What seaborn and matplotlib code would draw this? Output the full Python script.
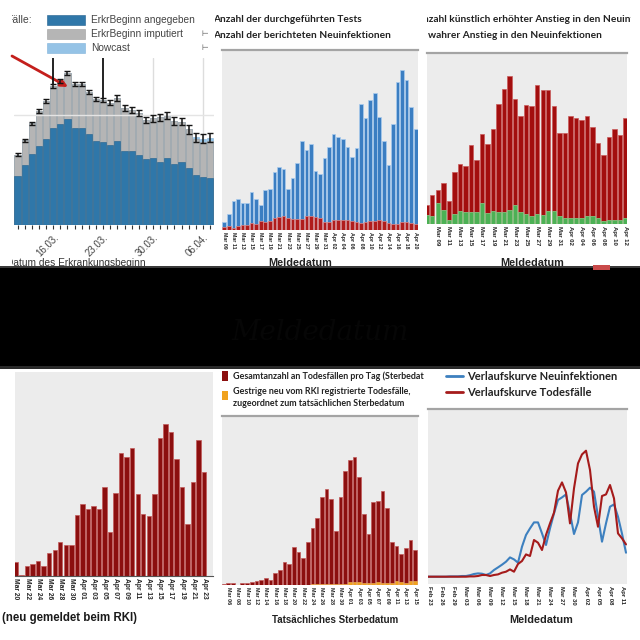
import numpy as np
import pandas as pd
import matplotlib
matplotlib.use("Agg")
import matplotlib.pyplot as plt
import seaborn as sns
from matplotlib.transforms import Bbox, TransformedBbox
from matplotlib.patches import Rectangle
from matplotlib.lines import Line2D

sns.set_style("white")
plt.rcParams['font.family'] = ['Liberation Sans', 'DejaVu Sans']

# ---------------- data ----------------
# Panel 1: Fälle nach Erkrankungsbeginn (11.03. - 07.04.)
p1_dates = pd.date_range('2020-03-11', '2020-04-07').strftime('%d.%m.').tolist()
p1_angegeben = [1780, 2170, 2580, 2880, 3120, 3520, 3680, 3870, 3520, 3530, 3310, 3070, 3030, 2900,
                3050, 2700, 2700, 2560, 2390, 2440, 2290, 2440, 2220, 2290, 2060, 1820, 1740, 1710]
p1_imputiert = [770, 920, 1120, 1270, 1390, 1540, 1570, 1650, 1610, 1600, 1540, 1510, 1520, 1550,
                1560, 1550, 1490, 1510, 1430, 1440, 1630, 1540, 1570, 1470, 1430, 1300, 1290, 1360]
p1_nowcast = [0] * 25 + [80, 110, 110]
p1_err = [55, 55, 60, 60, 75, 85, 75, 75, 75, 75, 75, 75, 75, 85, 110, 110, 110, 110, 110, 120,
          120, 135, 135, 135, 165, 165, 165, 165]
p1_ticklabels = ['16.03.', '23.03.', '30.03.', '06.04.']

# Panel 2: Tests vs. Neuinfektionen (Mar 09 - Apr 20)
p2_dates = pd.date_range('2020-03-09', '2020-04-20').strftime('%b %d').tolist()
p2_tests = [8.3, 15.7, 29.3, 30.7, 27.3, 27.3, 37.7, 31, 25.3, 40.3,
            41, 57.7, 63.3, 60.7, 40.7, 51.7, 66.7, 88.7, 80, 85.7,
            59, 56, 71.7, 83.3, 96.3, 93.3, 91, 82.7, 73, 81.7,
            125.7, 112.3, 129.7, 137.3, 113.3, 88.7, 64.7, 106.3, 148, 159.7,
            150.3, 122.7, 100.7]
p2_cases = [3.3, 4.3, 1.7, 4.3, 5.3, 5.3, 6.7, 6.3, 8.7, 7.7,
            9.3, 11.7, 13.3, 14.3, 12.3, 10.7, 11.3, 11.3, 13.7, 13.7,
            13.3, 11.7, 8.3, 8.3, 10.3, 10, 10, 10, 9.3, 7.7,
            6.7, 8.3, 9.3, 9, 10, 9, 6.7, 6.3, 6, 8,
            7.7, 7.3, 6.3]

# Panel 3: künstlich erhöhter vs. wahrer Anstieg (Mar 07 - Apr 12)
p3_dates = pd.date_range('2020-03-07', '2020-04-12').strftime('%b %d').tolist()
p3_kuenstlich = [18.7, 28.7, 33.7, 40.7, 22.7, 52.3, 60.3, 57.7, 79, 64.3,
                 90.3, 80, 95, 120.3, 135, 148.3, 125.3, 108.3, 118.7, 117.7,
                 138.7, 134.3, 134.3, 117.7, 91, 91, 107.7, 105.7, 103.7, 108.3,
                 97, 81, 68.7, 86.7, 94.7, 89, 106.3]
p3_wahr = [8.7, 8.3, 21, 14.3, 4.3, 10, 12.7, 11.7, 11.7, 11.7,
           21, 11, 12.7, 12, 12.3, 14.3, 18.7, 11.7, 10.3, 7.7,
           10, 9.3, 13.3, 12.7, 7.7, 6, 6, 6, 6.3, 7.7,
           7.7, 5.7, 3.3, 4.3, 4.3, 3.7, 5.7]

# Panel 4: Todesfälle neu gemeldet beim RKI (Mar 20 - Apr 23)
p4_dates = pd.date_range('2020-03-20', '2020-04-23').strftime('%b %d').tolist()
p4_tote = [13.7, 0.7, 10, 12, 14.7, 10.3, 23, 26, 34.3, 30.7,
           31.3, 61.3, 71.7, 67, 69.7, 67.3, 89, 44, 83.3, 123,
           119, 128.3, 82.3, 62, 60.3, 82, 137.7, 152, 144.3, 117,
           88.7, 52.3, 93.7, 136, 103.7]

# Panel 5: Todesfälle nach Sterbedatum (Mar 05 - Apr 15)
p5_dates = pd.date_range('2020-03-05', '2020-04-15').strftime('%b %d').tolist()
p5_gesamt = [1, 1.7, 1.7, 0, 2, 1.7, 2.7, 4.3, 5.3, 7.3,
             4.7, 12, 15, 22.7, 20.7, 37.7, 33.3, 27, 42.7, 57.3,
             67, 88, 96, 86, 54, 87.7, 114.3, 124.7, 128, 107.7,
             71, 51, 83, 84, 93.7, 76.7, 43.3, 39, 31.3, 37,
             45, 34.7]
p5_gestern = [0] * 19 + [0.7, 0.7, 0.7, 0.7, 0.7, 0.7, 1, 1.3, 3, 2.7, 2.7, 2.3, 2, 2.3,
                         2.7, 2, 2.3, 2.3, 4.3, 2.7, 2.3, 3.7, 4.3]

# Panel 6: Verlaufskurven (Feb 22 - Apr 12)
p6_dates = pd.date_range('2020-02-22', '2020-04-12').strftime('%b %d').tolist()
p6_neuinf = [0, 0, 0, 0, 0, 0, 0.3, 0.3, 0.3, 0.7,
             0.7, 1.5, 2.7, 3.3, 3, 1.7, 3.3, 6.7, 9.3, 12, 15, 19.3, 17.3, 14, 30, 41.7, 48.3,
             54.3, 54.3, 43.3, 31.7, 48.3, 63.3, 76.7, 79.3, 82.3, 63.3, 42.7, 54.3,
             81.7, 85, 89, 85, 60, 35, 53.3, 70, 72.3, 60, 43, 24]
p6_tote = [0, 0, 0, 0, 0, 0, 0, 0, 0, 0, 0, 0.3, 0.3,
           0.7, 1.7, 1.7, 0.7, 1.7, 2.3, 4, 5, 7.3, 5, 12.7, 15.7, 22.3, 20.7, 36.7, 34, 26.7,
           41.7, 53.3, 64, 86, 94.3, 84.3, 53.3, 88.3, 113.3,
           122.3, 126, 106.7, 70, 50, 80.7, 82.3, 91.7, 78.3, 43.3, 38.3, 32.3]

# ---------------- figure helpers ----------------
W = H = 640
fig = plt.figure(figsize=(6.4, 6.4), dpi=100)
fig.patch.set_facecolor('white')
GRAY_BG = '#ececec'
TITLE_FONT = ['Lato', 'DejaVu Sans']


def pax(l, t, r, b):
    return fig.add_axes([l / W, 1 - b / H, (r - l) / W, (b - t) / H])


def ftext(x, y, s, clip=None, **kw):
    kw.setdefault('va', 'center')
    t = fig.text(x / W, 1 - y / H, s, **kw)
    if clip is not None:
        x0, y0, x1, y1 = clip
        t.set_clip_box(TransformedBbox(Bbox.from_extents(x0 / W, 1 - y1 / H, x1 / W, 1 - y0 / H),
                                       fig.transFigure))
        t.set_clip_on(True)
    return t


def frect(x0, y0, x1, y1, **kw):
    r = Rectangle((x0 / W, 1 - y1 / H), (x1 - x0) / W, (y1 - y0) / H,
                  transform=fig.transFigure, **kw)
    fig.add_artist(r)
    return r


def fline(x0, y0, x1, y1, **kw):
    ln = Line2D([x0 / W, x1 / W], [1 - y0 / H, 1 - y1 / H], transform=fig.transFigure, **kw)
    fig.add_artist(ln)
    return ln


def style_panel(ax, top_line=True):
    ax.set_facecolor(GRAY_BG)
    for s in ['left', 'right', 'bottom']:
        ax.spines[s].set_visible(False)
    if top_line:
        ax.spines['top'].set_color('#a4a4a4')
        ax.spines['top'].set_linewidth(1.6)
    else:
        ax.spines['top'].set_visible(False)
    ax.set_yticks([])
    ax.set_xlabel('')
    ax.set_ylabel('')


def rot_ticks(ax, pos, labels, size):
    ax.set_xticks(pos)
    ax.set_xticklabels(labels, rotation=-90, fontsize=size, fontweight='bold', color='#222222',
                       va='top', ha='center')
    ax.tick_params(axis='x', length=0, pad=1.5)


# ---------------- Panel 1 ----------------
df1 = pd.DataFrame({'datum': p1_dates, 'ang': p1_angegeben, 'imp': p1_imputiert, 'now': p1_nowcast})
df1['total'] = df1['ang'] + df1['imp']
df1['total_now'] = df1['total'] + df1['now']
ax1 = pax(14, 58, 214, 225)
ax1.set_facecolor('white')
n1 = len(df1)
for xv in [19, 26]:
    ax1.axvline(xv, color='#dddddd', lw=1, zorder=0.5)
sns.barplot(data=df1, x='datum', y='total_now', color='#95c3e6', saturation=1, width=0.86,
            edgecolor='#7fb2da', linewidth=0.4, ax=ax1, zorder=2)
sns.barplot(data=df1, x='datum', y='total', color='#b5b5b5', saturation=1, width=0.86,
            edgecolor='#9d9d9d', linewidth=0.4, ax=ax1, zorder=2.1)
sns.barplot(data=df1, x='datum', y='ang', color='#2f77a9', saturation=1, width=0.86,
            edgecolor='#20608e', linewidth=0.4, ax=ax1, zorder=2.2)
ax1.axhline(4000, color='#e4e4e4', lw=1, zorder=2.5)
ax1.errorbar(np.arange(n1), df1['total_now'], yerr=p1_err, fmt='none', ecolor='#151515',
             elinewidth=1.1, capsize=2, capthick=1, zorder=4)
y1max = 6080
ax1.vlines([5, 12], [df1['total_now'][5] + p1_err[5], df1['total_now'][12] + p1_err[12]], y1max,
           color='#111111', lw=1.3, zorder=4)
ax1.set_xlim(-0.5, 27.55)
ax1.set_ylim(0, y1max)
for s in ax1.spines.values():
    s.set_visible(False)
ax1.set_yticks([])
ax1.set_xticks(np.arange(n1), minor=True)
ax1.set_xticks([5, 12, 19, 26])
ax1.set_xticklabels(p1_ticklabels, rotation=45, ha='right', rotation_mode='anchor',
                    fontsize=7, color='#444444')
ax1.tick_params(axis='x', which='both', length=3, width=0.8, color='#333333', pad=2, bottom=True)
ax1.set_xlabel('')
ax1.set_ylabel('')

# legend of panel 1
clip1 = (12, 0, 214, 268)
ftext(6, 20, 'Fälle:', clip=clip1, fontsize=7.5, color='#444444')
frect(47, 15, 85, 25, facecolor='#2f77a9', edgecolor='#20608e', lw=0.4)
frect(47, 29, 85, 39, facecolor='#b5b5b5', edgecolor='#9d9d9d', lw=0.4)
frect(47, 43, 85, 53, facecolor='#95c3e6', edgecolor='#7fb2da', lw=0.4)
ftext(91, 20, 'ErkrBeginn angegeben', fontsize=7.3, color='#444444')
ftext(91, 34, 'ErkrBeginn imputiert', fontsize=7.3, color='#444444')
ftext(91, 48, 'Nowcast', fontsize=7.3, color='#444444')
ftext(201, 34, '⊢', fontsize=5.5, color='#333333', family='DejaVu Sans')
ftext(201, 48, '⊢', fontsize=5.5, color='#333333', family='DejaVu Sans')
ftext(5.5, 263, 'Datum des Erkrankungsbeginn', clip=clip1, fontsize=7.3, color='#333333')
ax1.annotate('', xy=(68 / W, 1 - 87 / H), xycoords='figure fraction',
             xytext=(12 / W, 1 - 56 / H), textcoords='figure fraction',
             arrowprops=dict(arrowstyle='-|>', color='#c41f1c', lw=2, mutation_scale=10,
                             shrinkA=0, shrinkB=0))

# ---------------- Panel 2 ----------------
ax2 = pax(222, 50, 418, 230)
sns.barplot(x=p2_dates, y=p2_tests, color='#3b7ec2', saturation=1, width=0.8,
            edgecolor='#a9cbee', linewidth=0.5, ax=ax2)
sns.barplot(x=p2_dates, y=p2_cases, color='#b01c1c', saturation=1, width=0.8,
            edgecolor='#e08a8a', linewidth=0.5, ax=ax2)
ax2.set_xlim(-0.5, 42.5)
ax2.set_ylim(0, 180)
style_panel(ax2)
rot_ticks(ax2, list(range(0, len(p2_dates), 2)), p2_dates[::2], 3.8)
clip2 = (215, 0, 425, 268)
ftext(213.5, 19.5, 'Anzahl der durchgeführten Tests', clip=clip2, fontsize=7.3, fontweight='bold',
      family=TITLE_FONT, color='#222222')
ftext(213.5, 35, 'Anzahl der berichteten Neuinfektionen', clip=clip2, fontsize=7.3, fontweight='bold',
      family=TITLE_FONT, color='#222222')
ftext(300, 263, 'Meldedatum', ha='center', fontsize=7.8, fontweight='bold', color='#222222')

# ---------------- Panel 3 ----------------
ax3 = pax(427, 53, 627, 224)
sns.barplot(x=p3_dates, y=p3_kuenstlich, color='#a30e0e', saturation=1, width=0.8,
            edgecolor='#c95a5a', linewidth=0.5, ax=ax3)
sns.barplot(x=p3_dates, y=p3_wahr, color='#4cb155', saturation=1, width=0.8,
            edgecolor='#86d48d', linewidth=0.5, ax=ax3)
ax3.set_xlim(0.05, 36.25)
ax3.set_ylim(0, 171)
style_panel(ax3)
rot_ticks(ax3, list(range(2, len(p3_dates), 2)), p3_dates[2::2], 4.4)
clip3 = (427, 0, 631, 268)
ftext(416, 19.5, 'Anzahl künstlich erhöhter Anstieg in den Neuinfektionen', clip=clip3, fontsize=7.3,
      fontweight='bold', family=TITLE_FONT, color='#222222')
ftext(428, 35, 'wahrer Anstieg in den Neuinfektionen', clip=clip3, fontsize=7.3, fontweight='bold',
      family=TITLE_FONT, color='#222222')
ftext(532, 263, 'Meldedatum', ha='center', fontsize=7.8, fontweight='bold', color='#222222')

# ---------------- Panel 4 ----------------
ax4 = pax(15, 372, 213, 576)
sns.barplot(x=p4_dates, y=p4_tote, color='#8c0f0f', saturation=1, width=0.8,
            edgecolor='#c25a5a', linewidth=0.5, ax=ax4)
ax4.set_xlim(-0.18, 35.6)
ax4.set_ylim(0, 204)
style_panel(ax4, top_line=False)
ax4.spines['bottom'].set_visible(True)
ax4.spines['bottom'].set_color('#555555')
ax4.spines['bottom'].set_linewidth(0.8)
rot_ticks(ax4, list(range(0, len(p4_dates), 2)), p4_dates[::2], 4.8)
ftext(2, 618, '(neu gemeldet beim RKI)', fontsize=8.3, fontweight='bold', color='#1a1a1a')

# ---------------- Panel 5 ----------------
ax5 = pax(222, 416, 418, 585)
sns.barplot(x=p5_dates, y=p5_gesamt, color='#8c0f0f', saturation=1, width=0.8,
            edgecolor='#c25a5a', linewidth=0.5, ax=ax5)
sns.barplot(x=p5_dates, y=p5_gestern, color='#f0a21e', saturation=1, width=0.8,
            edgecolor='#f6c060', linewidth=0.4, ax=ax5)
ax5.set_xlim(-0.36, 41.6)
ax5.set_ylim(0, 169)
style_panel(ax5)
rot_ticks(ax5, list(range(1, len(p5_dates), 2)), p5_dates[1::2], 3.9)
clip5 = (215, 366, 424, 412)
frect(222, 371, 228, 381, facecolor='#8c0f0f', edgecolor='none')
frect(222, 391, 228, 400, facecolor='#f0a21e', edgecolor='none')
ftext(233, 376, 'Gesamtanzahl an Todesfällen pro Tag (Sterbedatum)', clip=clip5, fontsize=6.4,
      fontweight='bold', family=TITLE_FONT, color='#222222')
ftext(233, 392, 'Gestrige neu vom RKI registrierte Todesfälle,', clip=clip5, fontsize=6.4,
      fontweight='bold', family=TITLE_FONT, color='#222222')
ftext(233, 404, 'zugeordnet zum tatsächlichen Sterbedatum', clip=clip5, fontsize=6.4,
      fontweight='bold', family=TITLE_FONT, color='#222222')
ftext(335, 620, 'Tatsächliches Sterbedatum', ha='center', fontsize=7, fontweight='bold',
      color='#222222')

# ---------------- Panel 6 ----------------
ax6 = pax(428, 409, 627, 584)
x6 = np.arange(len(p6_dates))
sns.lineplot(x=x6, y=p6_neuinf, color='#3d80bf', lw=1.5, ax=ax6)
sns.lineplot(x=x6, y=p6_tote, color='#a51b1b', lw=1.5, ax=ax6)
ax6.set_xlim(0.5, 50.25)
ax6.set_ylim(-7.3, 167.7)
style_panel(ax6)
rot_ticks(ax6, list(range(1, len(p6_dates), 3)), p6_dates[1::3], 4.2)
fline(446, 376, 463, 376, color='#3d80bf', lw=2)
fline(446, 392, 463, 392, color='#a51b1b', lw=2)
ftext(467, 376, 'Verlaufskurve Neuinfektionen', fontsize=8, fontweight='bold',
      family=TITLE_FONT, color='#222222')
ftext(467, 392, 'Verlaufskurve Todesfälle', fontsize=8, fontweight='bold',
      family=TITLE_FONT, color='#222222')
ftext(541, 620, 'Meldedatum', ha='center', fontsize=7.8, fontweight='bold', color='#222222')

# ---------------- black band ----------------
frect(0, 266, 640, 270, facecolor='#3a3a3a', edgecolor='none', zorder=20)
frect(0, 268, 640, 366, facecolor='#000000', edgecolor='none', zorder=21)
frect(0, 364, 640, 369, facecolor='#2a2a2a', edgecolor='none', zorder=20)
frect(593, 265, 610, 270, facecolor='#c94a4a', edgecolor='none', zorder=22)
ftext(320, 332, 'Meldedatum', ha='center', fontsize=20, style='italic', family='DejaVu Serif',
      color='#060606', zorder=23)

fig.savefig('out.png', dpi=100, facecolor='white')
